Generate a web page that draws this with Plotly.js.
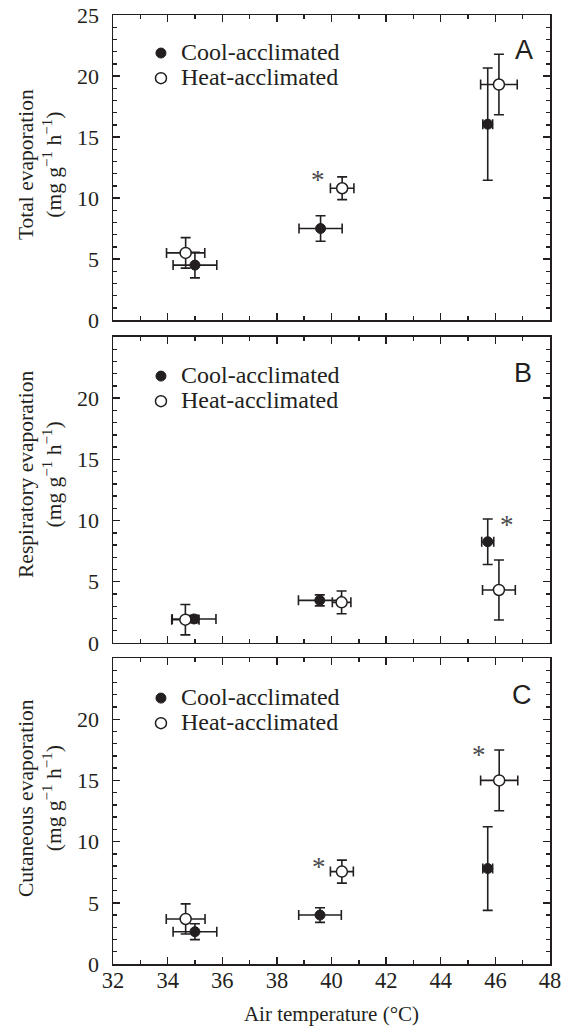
<!DOCTYPE html>
<html>
<head>
<meta charset="utf-8">
<script src="https://cdn.plot.ly/plotly-3.0.1.min.js"></script>
<style>html,body{margin:0;padding:0;background:#fff;}#chart{width:566px;height:1026px;}</style>
</head>
<body>
<div id="chart"></div>
<script>
// ---------- DATA ----------
// Panel A: Total evaporation (mg g-1 h-1) vs air temperature (°C)
const totalCoolT    = [35.0, 39.6, 45.72];
const totalCoolTErr = [0.8, 0.79, 0.18];
const totalCoolE    = [4.5, 7.5, 16.05];
const totalCoolEErr = [1.05, 1.05, 4.6];
const totalHeatT    = [34.66, 40.39, 46.13];
const totalHeatTErr = [0.7, 0.43, 0.67];
const totalHeatE    = [5.5, 10.8, 19.3];
const totalHeatEErr = [1.25, 0.93, 2.48];

// Panel B: Respiratory evaporation
const respCoolT    = [34.97, 39.57, 45.72];
const respCoolTErr = [0.8, 0.78, 0.22];
const respCoolE    = [1.96, 3.48, 8.27];
const respCoolEErr = [0.3, 0.45, 1.86];
const respHeatT    = [34.65, 40.37, 46.13];
const respHeatTErr = [0.5, 0.34, 0.6];
const respHeatE    = [1.9, 3.32, 4.33];
const respHeatEErr = [1.24, 0.93, 2.45];

// Panel C: Cutaneous evaporation
const cutCoolT    = [35.0, 39.58, 45.72];
const cutCoolTErr = [0.8, 0.78, 0.18];
const cutCoolE    = [2.64, 4.0, 7.8];
const cutCoolEErr = [0.65, 0.6, 3.42];
const cutHeatT    = [34.66, 40.38, 46.14];
const cutHeatTErr = [0.71, 0.42, 0.68];
const cutHeatE    = [3.68, 7.55, 15.0];
const cutHeatEErr = [1.23, 0.94, 2.48];

// Significance asterisks (data coordinates)
const sigTotalX = [39.5];
const sigTotalY = [11.87];
const sigRespX  = [46.44];
const sigRespY  = [10.07];
const sigCutX   = [39.55, 45.4];
const sigCutY   = [8.37, 17.5];

// Labels
const seriesNames = ['Cool-acclimated', 'Heat-acclimated'];
const panelLetters = ['A', 'B', 'C'];
const yTitles = [
  'Total evaporation<br>(mg g<sup>−1</sup> h<sup>−1</sup>)',
  'Respiratory evaporation<br>(mg g<sup>−1</sup> h<sup>−1</sup>)',
  'Cutaneous evaporation<br>(mg g<sup>−1</sup> h<sup>−1</sup>)'
];
const xTitle = 'Air temperature (°C)';
const xTickVals = [32, 34, 36, 38, 40, 42, 44, 46, 48];
const yTickValsA = [0, 5, 10, 15, 20, 25];
const yTickValsBC = [0, 5, 10, 15, 20];

// ---------- STYLE ----------
const ink = '#231f20';
const serif = 'Liberation Serif, Times New Roman, serif';
const sans = 'Liberation Sans, Arial, sans-serif';

function errStyle(arr) {
  return {type: 'data', array: arr, visible: true, color: ink, thickness: 1.6, width: 5};
}
function makePair(coolT, coolTErr, coolE, coolEErr, heatT, heatTErr, heatE, heatEErr, xa, ya, leg) {
  return [
    {
      type: 'scatter', mode: 'markers', x: coolT, y: coolE,
      xaxis: xa, yaxis: ya, legend: leg,
      name: '<span style="font-size:24px">' + seriesNames[0] + '</span>',
      marker: {symbol: 'circle', size: 10, color: ink, line: {color: ink, width: 1}},
      error_x: errStyle(coolTErr), error_y: errStyle(coolEErr),
      hoverinfo: 'skip'
    },
    {
      type: 'scatter', mode: 'markers', x: heatT, y: heatE,
      xaxis: xa, yaxis: ya, legend: leg,
      name: '<span style="font-size:24px">' + seriesNames[1] + '</span>',
      marker: {symbol: 'circle', size: 11, color: '#ffffff', line: {color: ink, width: 1.5}},
      error_x: errStyle(heatTErr), error_y: errStyle(heatEErr),
      hoverinfo: 'skip'
    }
  ];
}

const data = [].concat(
  makePair(totalCoolT, totalCoolTErr, totalCoolE, totalCoolEErr, totalHeatT, totalHeatTErr, totalHeatE, totalHeatEErr, 'x', 'y', 'legend'),
  makePair(respCoolT, respCoolTErr, respCoolE, respCoolEErr, respHeatT, respHeatTErr, respHeatE, respHeatEErr, 'x2', 'y2', 'legend2'),
  makePair(cutCoolT, cutCoolTErr, cutCoolE, cutCoolEErr, cutHeatT, cutHeatTErr, cutHeatE, cutHeatEErr, 'x3', 'y3', 'legend3')
);

function xAxis(anchor, labels) {
  const a = {
    anchor: anchor, range: [32, 48], tickvals: xTickVals, ticktext: xTickVals.map(String),
    ticks: 'inside', ticklen: 7, tickwidth: 1.4, tickcolor: ink,
    minor: {dtick: 1, tick0: 32, ticks: 'inside', ticklen: 4, tickwidth: 1.4, tickcolor: ink, showgrid: false},
    showline: true, linewidth: 1.5, linecolor: ink, mirror: 'ticks',
    showgrid: false, zeroline: false, showticklabels: labels,
    tickfont: {family: serif, size: 22.5, color: ink}, ticklabelstandoff: -5, fixedrange: true
  };
  if (labels) {
    a.title = {text: xTitle, font: {family: serif, size: 21, color: ink}, standoff: 19};
  }
  return a;
}
function yAxis(anchor, domain, tickvals) {
  return {
    anchor: anchor, domain: domain, range: [0, 25], tickvals: tickvals, ticktext: tickvals.map(String),
    ticks: 'inside', ticklen: 7, tickwidth: 1.4, tickcolor: ink,
    minor: {dtick: 1, tick0: 0, ticks: 'inside', ticklen: 4, tickwidth: 1.4, tickcolor: ink, showgrid: false},
    showline: true, linewidth: 1.5, linecolor: ink, mirror: 'ticks',
    showgrid: false, zeroline: false,
    tickfont: {family: serif, size: 22, color: ink}, ticklabelstandoff: 8, fixedrange: true
  };
}
function legendBox(y) {
  return {
    x: 0.064, y: y, xanchor: 'left', yanchor: 'top',
    font: {family: serif, size: 17, color: ink},
    bgcolor: 'rgba(0,0,0,0)', borderwidth: 0, tracegroupgap: 0,
    itemclick: false, itemdoubleclick: false
  };
}

const annotations = [];
// panel letters
const letterPos = [[0.9405, 0.9631], [0.938, 0.6228], [0.936, 0.2835]];
panelLetters.forEach((t, i) => {
  annotations.push({
    text: t, xref: 'paper', yref: 'paper', x: letterPos[i][0], y: letterPos[i][1],
    xanchor: 'center', yanchor: 'middle', showarrow: false,
    font: {family: sans, size: 27, color: ink}
  });
});
// y-axis titles (two lines, rotated)
const yTitlePos = [0.8419, 0.5153, 0.1749];
yTitles.forEach((t, i) => {
  annotations.push({
    text: t, xref: 'paper', yref: 'paper', x: 0, y: yTitlePos[i], xshift: -73,
    xanchor: 'center', yanchor: 'middle', textangle: -90, showarrow: false,
    font: {family: serif, size: 21.5, color: ink}
  });
});
// asterisks
function addStars(xs, ys, xr, yr) {
  xs.forEach((xv, i) => {
    annotations.push({
      text: '*', xref: xr, yref: yr, x: xv, y: ys[i], yshift: -5,
      xanchor: 'center', yanchor: 'middle', showarrow: false,
      font: {family: serif, size: 27, color: '#4a4a4a'}
    });
  });
}
addStars(sigTotalX, sigTotalY, 'x', 'y');
addStars(sigRespX, sigRespY, 'x2', 'y2');
addStars(sigCutX, sigCutY, 'x3', 'y3');

const layout = {
  width: 566, height: 1026,
  margin: {l: 113, r: 16, t: 15, b: 62, pad: 0},
  paper_bgcolor: '#ffffff', plot_bgcolor: '#ffffff',
  font: {family: serif, color: ink},
  showlegend: true,
  xaxis: xAxis('y', false),
  xaxis2: xAxis('y2', false),
  xaxis3: xAxis('y3', true),
  yaxis: yAxis('x', [0.6786, 1], yTickValsA),
  yaxis2: yAxis('x2', [0.3383, 0.6607], yTickValsBC),
  yaxis3: yAxis('x3', [0, 0.3224], yTickValsBC),
  legend: legendBox(0.9784),
  legend2: legendBox(0.638),
  legend3: legendBox(0.2987),
  annotations: annotations
};

Plotly.newPlot('chart', data, layout, {staticPlot: true, displayModeBar: false});
</script>
</body>
</html>
